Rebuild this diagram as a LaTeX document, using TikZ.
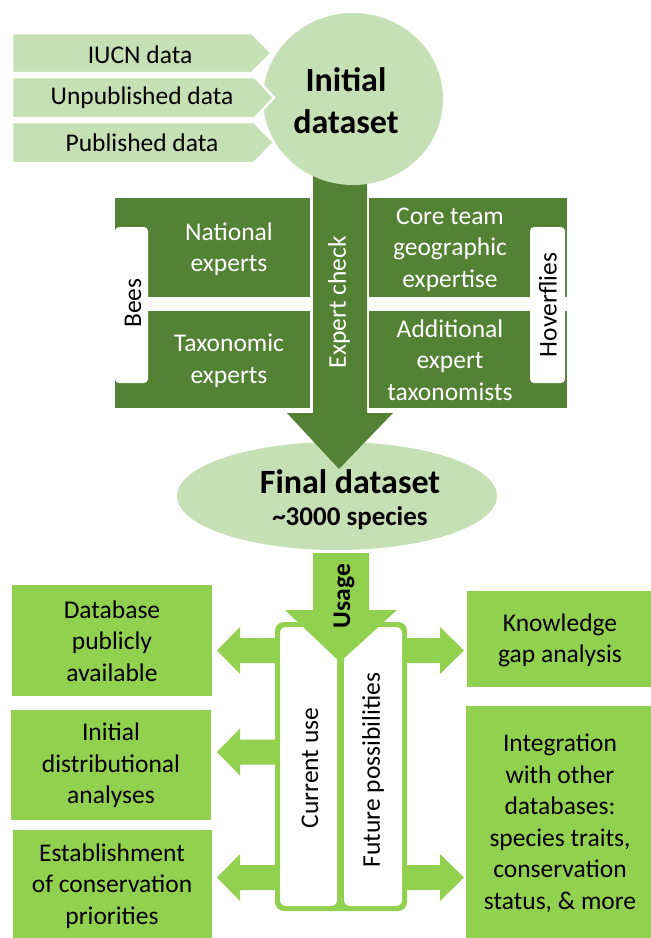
\documentclass[tikz,border=0pt]{standalone}
\usepackage{fontspec}
\setmainfont{Carlito}
\usetikzlibrary{shapes.geometric}
\definecolor{pale}{HTML}{C5E0B4}
\definecolor{dkgreen}{HTML}{548235}
\definecolor{brgreen}{HTML}{92D050}
\tikzset{
  txt/.style={font=\fontsize{25.5}{31.5}\selectfont, align=center, inner sep=0pt, text=black},
  wtxt/.style={txt, text=white},
  bigtxt/.style={font=\bfseries\fontsize{34}{42}\selectfont, align=center, inner sep=0pt, text=black},
  chev/.style={fill=pale, draw=white, line width=2.5pt, line join=miter},
  darkbox/.style={fill=dkgreen},
  brbox/.style={fill=brgreen},
  whitetab/.style={fill=white, rounded corners=4pt},
  blockarrow/.style={fill=brgreen},
}
\begin{document}
\begin{tikzpicture}[x=1pt,y=-1pt]
\useasboundingbox (0,0) rectangle (651,938);
\fill[white] (0,0) rectangle (651,938);

% final dataset ellipse
\node[ellipse, fill=pale, minimum width=320pt, minimum height=108pt, inner sep=0pt] (final) at (337,496) {};

% expert-check boxes
\fill[darkbox] (115,198) rectangle (310,297);
\fill[darkbox] (115,311) rectangle (310,408);
\fill[darkbox] (369,198) rectangle (567,297);
\fill[darkbox] (369,311) rectangle (567,408);
\fill[whitetab] (115,227) rectangle (148,383);
\fill[whitetab] (530,227) rectangle (565,383);

% expert check arrow
\fill[dkgreen] (313,170) -- (367,170) -- (367,413) -- (393,413) -- (339,469) -- (287,413) -- (313,413) -- cycle;

% initial dataset circle
\node[ellipse, fill=pale, minimum width=180pt, minimum height=172pt, inner sep=0pt] (initial) at (353,99) {};

% input chevrons
\draw[chev] (12,33) -- (252,33) -- (272,53) -- (252,73) -- (12,73) -- cycle;
\draw[chev] (12,77) -- (255,77) -- (274,97.5) -- (255,118) -- (12,118) -- cycle;
\draw[chev] (12,122) -- (254,122) -- (274,142.5) -- (254,163) -- (12,163) -- cycle;

\node[txt] (iucn) at (140,55) {IUCN data};
\node[txt] (unpub) at (142,98) {Unpublished data};
\node[txt] (pub) at (142,143) {Published data};
\node[bigtxt] (initxt) at (346,101) {Initial\\dataset};

% texts in dark boxes
\node[wtxt] (national) at (229,249) {National\\experts};
\node[wtxt] (taxo) at (229,361) {Taxonomic\\experts};
\node[wtxt] (core) at (450,249.5) {Core team\\geographic\\expertise};
\node[wtxt] (addit) at (450,360) {Additional\\expert\\taxonomists};
\node[wtxt, rotate=90] (check) at (339,302) {Expert check};
\node[txt, rotate=90] (bees) at (133,303) {Bees};
\node[txt, rotate=90] (hover) at (548,305) {Hoverflies};

% final dataset text
\node[font=\bfseries\fontsize{34}{42}\selectfont, inner sep=0pt] (finaltxt) at (350,482) {Final dataset};
\node[font=\bfseries\fontsize{27}{32}\selectfont, inner sep=0pt] (species) at (350,518) {\char"007E{}3000 species};

% usage frame
\fill[brgreen, rounded corners=9pt] (275,622) rectangle (407,911);
\fill[white, rounded corners=6pt] (280,627) rectangle (337,906);
\fill[white, rounded corners=6pt] (344,627) rectangle (402,906);

% usage arrow
\fill[brgreen] (313,553) -- (369,553) -- (369,610) -- (397,610) -- (340,662) -- (285,610) -- (313,610) -- cycle;
\node[font=\bfseries\fontsize{25.5}{30}\selectfont, inner sep=0pt, rotate=90] (usage) at (344,596) {Usage};

% side arrows (left)
\foreach \c in {650.5,752,877.5}{
  \fill[blockarrow] (277,\c-12.5) -- (240,\c-12.5) -- (240,\c-23.5) -- (217,\c) -- (240,\c+23.5) -- (240,\c+12.5) -- (277,\c+12.5) -- cycle;
}
% side arrows (right)
\foreach \c in {650.5,877.5}{
  \fill[blockarrow] (405,\c-12.5) -- (440,\c-12.5) -- (440,\c-23.5) -- (464,\c) -- (440,\c+23.5) -- (440,\c+12.5) -- (405,\c+12.5) -- cycle;
}

\node[txt, rotate=90] (current) at (310,768) {Current use};
\node[txt, rotate=90] (future) at (373,770) {Future possibilities};

% output boxes
\fill[brbox] (12,585) rectangle (212,696);
\fill[brbox] (11,710) rectangle (211,820);
\fill[brbox] (13,830) rectangle (212,938);
\fill[brbox] (467,591) rectangle (651,687);
\fill[brbox] (466,706) rectangle (651,938);

\node[txt] (db) at (112,641) {Database\\publicly\\available};
\node[txt] (distr) at (111,765.5) {Initial\\distributional\\analyses};
\node[txt] (estab) at (112,886) {Establishment\\of conservation\\priorities};
\node[txt] (gap) at (560,640.5) {Knowledge\\gap analysis};
\node[txt] (integ) at (560,823.5) {Integration\\with other\\databases:\\species traits,\\conservation\\status, \& more};
\end{tikzpicture}
\end{document}
